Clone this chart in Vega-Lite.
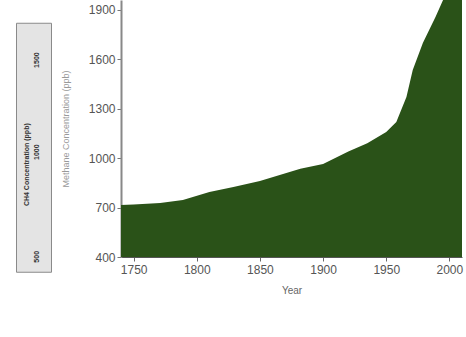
{
  "$schema": "https://vega.github.io/schema/vega-lite/v6.json",
  "padding": {"left": 15, "top": 0, "right": 4, "bottom": 0},
  "background": "white",
  "center": true,
  "spacing": 9,
  "config": {"font": "Liberation Sans", "view": {"stroke": null}},
  "hconcat": [
    {
      "width": 35,
      "height": 249,
      "view": {"fill": "#e4e4e4", "stroke": "#8a8a8a", "strokeWidth": 1},
      "data": {"values": [
        {"col": 0.3, "pos": 0.43, "label": "CH4 Concentration (ppb)"},
        {"col": 0.6, "pos": 0.85, "label": "1500"},
        {"col": 0.6, "pos": 0.48, "label": "1000"},
        {"col": 0.6, "pos": 0.06, "label": "500"}
      ]},
      "mark": {"type": "text", "angle": 270, "fontSize": 7, "fontWeight": "bold", "color": "#333"},
      "encoding": {
        "x": {"field": "col", "type": "quantitative", "scale": {"domain": [0, 1]}, "axis": null},
        "y": {"field": "pos", "type": "quantitative", "scale": {"domain": [0, 1]}, "axis": null},
        "text": {"field": "label"}
      }
    },
    {
      "width": 341,
      "height": 257,
      "data": {"values": [
        {"year": 1740, "ppb": 716},
        {"year": 1750, "ppb": 718},
        {"year": 1771, "ppb": 728},
        {"year": 1789, "ppb": 746},
        {"year": 1810, "ppb": 795},
        {"year": 1829, "ppb": 825},
        {"year": 1850, "ppb": 861},
        {"year": 1882, "ppb": 935},
        {"year": 1900, "ppb": 965},
        {"year": 1920, "ppb": 1040},
        {"year": 1935, "ppb": 1090},
        {"year": 1950, "ppb": 1159},
        {"year": 1958, "ppb": 1220},
        {"year": 1966, "ppb": 1371},
        {"year": 1971, "ppb": 1535},
        {"year": 1979, "ppb": 1699},
        {"year": 1989, "ppb": 1857},
        {"year": 1995, "ppb": 1960},
        {"year": 2000, "ppb": 1990},
        {"year": 2010, "ppb": 2000}
      ]},
      "mark": {"type": "area", "color": "#2a5218", "clip": true},
      "encoding": {
        "x": {
          "field": "year", "type": "quantitative",
          "scale": {"domain": [1740, 2010], "nice": false, "zero": false},
          "axis": {
            "title": "Year", "values": [1750, 1800, 1850, 1900, 1950, 2000], "format": "d",
            "grid": false, "labelFontSize": 12, "labelColor": "#555", "tickColor": "#666", "tickSize": 4,
            "domainColor": "#555", "labelPadding": 3, "titleFontSize": 10, "titleFontWeight": "normal",
            "titleColor": "#666", "titlePadding": 10
          }
        },
        "y": {
          "field": "ppb", "type": "quantitative",
          "scale": {"domain": [400, 1960], "nice": false, "zero": false},
          "axis": {
            "title": "Methane Concentration (ppb)", "values": [400, 700, 1000, 1300, 1600, 1900], "format": "d",
            "grid": false, "labelFontSize": 12, "labelColor": "#555", "tickColor": "#777", "tickSize": 4,
            "domainColor": "#888", "domainWidth": 2, "labelPadding": 2, "titleFontSize": 9,
            "titleFontWeight": "normal", "titleColor": "#999", "titlePadding": 18
          }
        }
      }
    }
  ]
}
